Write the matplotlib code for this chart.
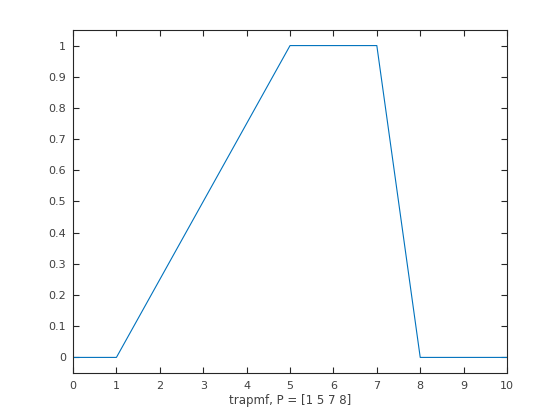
import matplotlib
matplotlib.use("Agg")
import matplotlib.pyplot as plt

x_pts = [0, 1, 5, 7, 8, 10]
y_pts = [0, 0, 1, 1, 0, 0]
xticks = [0, 1, 2, 3, 4, 5, 6, 7, 8, 9, 10]
yticks = [0, 0.1, 0.2, 0.3, 0.4, 0.5, 0.6, 0.7, 0.8, 0.9, 1]
ytick_labels = ["0", "0.1", "0.2", "0.3", "0.4", "0.5", "0.6", "0.7", "0.8", "0.9", "1"]

gray = "#262626"
plt.rcParams['font.family'] = ['DejaVu Sans']
fig = plt.figure(figsize=(5.6, 4.2), dpi=100)
ax = fig.add_axes([0.1304, 0.1119, 0.7750, 0.8167])
ax.plot(x_pts, y_pts, color="#0072BD", linewidth=0.8)
ax.set_xlim(0, 10)
ax.set_ylim(-0.05, 1.05)
ax.set_xticks(xticks)
ax.set_yticks(yticks)
ax.set_yticklabels(ytick_labels)
ax.tick_params(direction="in", length=4, width=0.8, colors=gray, labelsize=8,
               top=True, right=True, labelcolor="#404040")
ax.tick_params(axis="x", pad=6)
ax.tick_params(axis="y", pad=5)
for s in ax.spines.values():
    s.set_color(gray)
    s.set_linewidth(0.8)
ax.set_xlabel("trapmf, P = [1 5 7 8]", fontsize=8.5, color="#404040", labelpad=2)
fig.savefig("out.png", dpi=100)
